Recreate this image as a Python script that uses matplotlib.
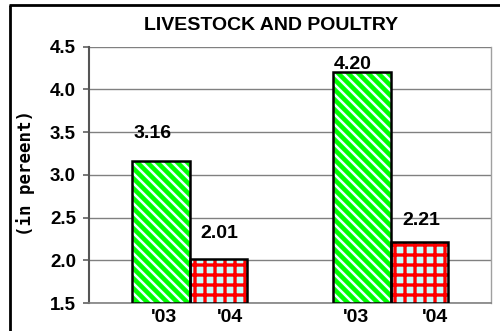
import matplotlib
matplotlib.use("Agg")
import matplotlib.pyplot as plt
import matplotlib.hatch as mhatch
import numpy as np
from matplotlib.lines import Line2D
from matplotlib.transforms import ScaledTranslation

# ---- data ----
title = "LIVESTOCK AND POULTRY"
ylabel = "(in pereent)"
groups = [0, 1]
values_03 = [3.16, 4.20]
values_04 = [2.01, 2.21]
tick_labels = ["'03", "'04", "'03", "'04"]
yticks = [1.5, 2.0, 2.5, 3.0, 3.5, 4.0, 4.5]

# ---- style: finer hatch spacing ----
_orig_get_path = mhatch.get_path
def _get_path(hatchpattern, density=6):
    return _orig_get_path(hatchpattern, 10)
mhatch.get_path = _get_path

W, H, DPI = 5.0, 3.31, 100
bw = 0.285
fig = plt.figure(figsize=(W, H), dpi=DPI)
ax = fig.add_axes([89/500, 1-303/331, 402/500, (303-46.7)/331])
ax.set_xlim(-0.5, 1.5)
ax.set_ylim(1.5, 4.5)

x = np.array(groups, dtype=float)
x03 = x - bw/2
x04 = x + bw/2

def hatched(xs, vals, face, hcol, hatch, hlw):
    bars = ax.bar(xs, np.array(vals) - 1.5, bottom=1.5, width=bw, color=face,
                  edgecolor=hcol, linewidth=0, hatch=hatch, zorder=3)
    for p in bars:
        try:
            p.set_hatch_linewidth(hlw)
        except AttributeError:
            plt.rcParams['hatch.linewidth'] = hlw
    ax.bar(xs, np.array(vals) - 1.5, bottom=1.5, width=bw, fill=False,
           edgecolor='black', linewidth=1.8, zorder=4)

hatched(x03, values_03, '#00ff00', '#e6ffff', '\\\\', 1.8)
hatched(x04, values_04, '#c4ffff', '#ff0000', '+', 2.4)

# value labels
lab_dx = [-8, -9]
lab_dy03 = [28, 8]
lab_dy04 = [26, 22]
lab_dx04 = [1, 2]
for i in range(len(groups)):
    ax.annotate(f"{values_03[i]:.2f}", (x03[i], values_03[i]),
                xytext=(lab_dx[i], lab_dy03[i]), textcoords='offset pixels',
                ha='center', va='center', fontsize=14, fontweight='bold',
                family='Liberation Sans', zorder=5)
    ax.annotate(f"{values_04[i]:.2f}", (x04[i], values_04[i]),
                xytext=(lab_dx04[i], lab_dy04[i]), textcoords='offset pixels',
                ha='center', va='center', fontsize=14, fontweight='bold',
                family='Liberation Sans', zorder=5)

# grid / spines
ax.set_yticks(yticks)
ax.set_yticklabels([f"{v:.1f}" for v in yticks], fontsize=13.5, fontweight='bold',
                   family='Liberation Sans')
ax.yaxis.grid(True, color='#808080', linewidth=1.0, zorder=0)
ax.set_axisbelow(True)
ax.tick_params(axis='y', direction='out', length=6*0.72, width=1.2, color='#606060', pad=7*0.72)
ax.spines['left'].set_color('#555555'); ax.spines['left'].set_linewidth(1.5)
ax.spines['bottom'].set_color('#808080'); ax.spines['bottom'].set_linewidth(1.2)
ax.spines['right'].set_color('#a0a0a0'); ax.spines['right'].set_linewidth(1.0)
ax.spines['top'].set_visible(False)

# x tick labels
xt = [x03[0], x04[0], x03[1], x04[1]]
ax.set_xticks(xt)
ax.set_xticklabels(tick_labels, fontsize=14, fontweight='bold', family='Liberation Sans')
ax.tick_params(axis='x', length=0, pad=4)
xoff = [3, 12, -6, 16]
for lbl, dx in zip(ax.get_xticklabels(), xoff):
    lbl.set_transform(lbl.get_transform() + ScaledTranslation(dx/DPI, 0, fig.dpi_scale_trans))

ax.set_ylabel(ylabel, fontsize=12.5, fontweight='bold', family='DejaVu Sans Mono')
ax.yaxis.set_label_coords(35/500, 1-173/331, transform=fig.transFigure)

fig.text(271.5/500, 1-26/331, title, ha='center', va='center', fontsize=14,
         fontweight='bold', family='Liberation Sans')

# outer frame (left and top)
fig.add_artist(Line2D([9.5/500, 9.5/500], [0, 1-4.5/331], transform=fig.transFigure,
                      color='black', linewidth=2.0, solid_capstyle='butt'))
fig.add_artist(Line2D([8.5/500, 1], [1-5/331, 1-5/331], transform=fig.transFigure,
                      color='black', linewidth=2.0, solid_capstyle='butt'))

fig.savefig("out.png", dpi=DPI)
